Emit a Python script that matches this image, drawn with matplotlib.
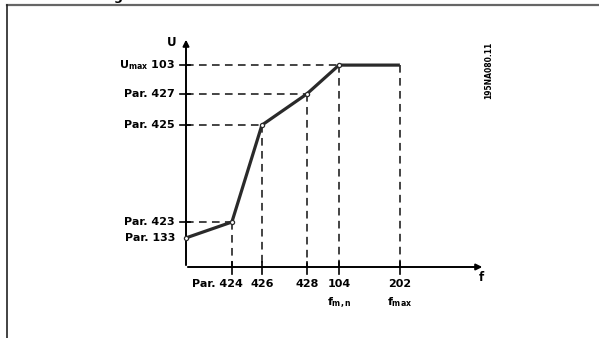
import matplotlib
matplotlib.use("Agg")
import matplotlib.pyplot as plt
from matplotlib.lines import Line2D

plt.rcParams['font.family'] = ['DejaVu Sans']
plt.rcParams['font.weight'] = 'bold'
plt.rcParams['mathtext.fontset'] = 'custom'
plt.rcParams['mathtext.rm'] = 'DejaVu Sans:bold'
plt.rcParams['mathtext.it'] = 'DejaVu Sans:bold'
plt.rcParams['mathtext.bf'] = 'DejaVu Sans:bold'

# schematic U/f characteristic (arbitrary units)
f_pts = [0, 15.3, 25.3, 40.3, 51.0, 71.3]
u_pts = [9.7, 15.0, 47.3, 57.7, 67.3, 67.3]

# axis labels for the break points
u_labels = ["Par. 133", "Par. 423", "Par. 425", "Par. 427", r"U$_{\mathrm{max}}$ 103"]
f_labels = ["Par. 424", "426", "428", "104", "202"]
f_sublabels = ["", "", "", r"f$_{\mathrm{m,n}}$", r"f$_{\mathrm{max}}$"]

W, H = 599, 338
fig = plt.figure(figsize=(W / 100, H / 100), dpi=100)
ax = fig.add_axes([0, 0, 1, 1])
# origin of the diagram sits at pixel (186, 267), 3 px per unit
ax.set_xlim(-186 / 3, (W - 186) / 3)
ax.set_ylim(-(H - 267) / 3, 267 / 3)
ax.axis('off')

# page frame
fig.add_artist(Line2D([7 / W, 1], [1 - 5 / H, 1 - 5 / H], color='#666666', lw=1.6))
fig.add_artist(Line2D([7 / W, 7 / W], [0, 1 - 5 / H], color='#222222', lw=1.2))
ax.text(-22.7, 88.9, "g", fontsize=9, ha='center', va='baseline', clip_on=False)

dash = dict(color='#111111', lw=1.1, ls=(0, (5, 3.5)))

# horizontal guides from the U axis to each corner
for f, u in zip(f_pts[1:5], u_pts[1:5]):
    ax.plot([0, f], [u, u], **dash)
# vertical guides down to the f axis
for f, u in zip(f_pts[1:], u_pts[1:]):
    ax.plot([f, f], [u, 0], **dash)

# ticks
for u in u_pts[1:5]:
    ax.plot([-2, 1.3], [u, u], color='k', lw=1.2)
for f in f_pts[1:]:
    ax.plot([f, f], [1.7, -2.2], color='k', lw=1.2)

# axes with arrows
ax.annotate('', xy=(0, 76.7), xytext=(0, -0.3),
            arrowprops=dict(arrowstyle='-|>', lw=1.4, color='k', mutation_scale=9))
ax.annotate('', xy=(99.7, 0), xytext=(-0.3, 0),
            arrowprops=dict(arrowstyle='-|>', lw=1.4, color='k', mutation_scale=9))
ax.text(-4.7, 74.7, "U", fontsize=8.5, ha='center', va='center')
ax.text(98.3, -3.6, "f", fontsize=8.5, ha='center', va='center')

# characteristic
ax.plot(f_pts, u_pts, color='#2a2a2a', lw=2.3, solid_capstyle='butt', zorder=5)
ax.plot(f_pts[:5], u_pts[:5], ls='none', marker='o', ms=3,
        mfc='white', mec='#2a2a2a', mew=0.9, zorder=6)

# U labels
for u, lab in zip(u_pts[:5], u_labels):
    ax.text(-3.7, u, lab, fontsize=8, ha='right', va='center')

# f labels
ax.text(18.8, -5.7, f_labels[0], fontsize=8, ha='right', va='center')
for f, lab, sub in zip(f_pts[2:], f_labels[1:], f_sublabels[1:]):
    ax.text(f, -5.7, lab, fontsize=8, ha='center', va='center')
    if sub:
        ax.text(f, -11.8, sub, fontsize=8, ha='center', va='center')

ax.text(101, 65.7, "195NA080.11", fontsize=5.5, rotation=90, ha='center', va='center')

fig.savefig("out.png", dpi=100)
